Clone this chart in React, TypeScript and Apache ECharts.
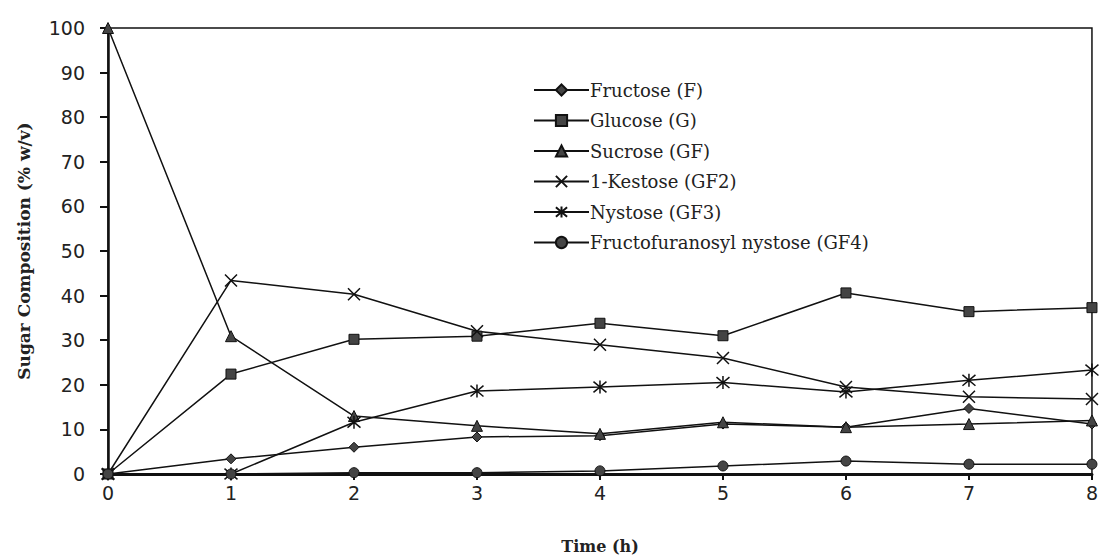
import React, { useEffect, useRef } from "react";
import * as echarts from "echarts";

const hours = [0, 1, 2, 3, 4, 5, 6, 7, 8];
const seriesNames = [
  "Fructose (F)",
  "Glucose (G)",
  "Sucrose (GF)",
  "1-Kestose (GF2)",
  "Nystose (GF3)",
  "Fructofuranosyl nystose (GF4)",
];
const fructose = [0, 3.4, 6, 8.3, 8.6, 11.2, 10.5, 14.7, 11.2];
const glucose = [0, 22.4, 30.2, 30.9, 33.8, 31, 40.6, 36.4, 37.3];
const sucrose = [100, 30.9, 13, 10.8, 9, 11.6, 10.5, 11.2, 12];
const kestose = [0, 43.4, 40.3, 32, 29, 26, 19.5, 17.3, 16.8];
const nystose = [0, 0, 11.6, 18.6, 19.5, 20.5, 18.4, 21, 23.3];
const gf4 = [0, 0, 0.3, 0.3, 0.7, 1.8, 2.9, 2.2, 2.2];

const symbols = [
  "diamond",
  "rect",
  "triangle",
  "path://M0,0L10,10M10,0L0,10",
  "path://M0,0L10,10M10,0L0,10M5,-1L5,11",
  "circle",
];
const symbolSizes = [10, 10, 11, 12, 13, 10];
const dataSets = [fructose, glucose, sucrose, kestose, nystose, gf4];

export default function App() {
  const ref = useRef<HTMLDivElement>(null);
  useEffect(() => {
    if (!ref.current) return;
    const chart = echarts.init(ref.current, null, { renderer: "svg" });
    const series = seriesNames.map((name, i) => {
      const isPath = symbols[i].startsWith("path://");
      return {
        name,
        type: "line",
        data: hours.map((h, j) => [h, dataSets[i][j]]),
        symbol: symbols[i],
        symbolSize: symbolSizes[i],
        showAllSymbol: true,
        lineStyle: { color: "#111", width: 1.5 },
        itemStyle: isPath
          ? { color: "rgba(0,0,0,0)", borderColor: "#111", borderWidth: 1.5 }
          : { color: "#444", borderColor: "#111", borderWidth: 1 },
        z: 3,
      };
    });
    chart.setOption({
      animation: false,
      backgroundColor: "#fff",
      grid: {
        left: 108,
        right: 8,
        top: 28,
        bottom: 84,
        show: true,
        borderColor: "#111",
        borderWidth: 1.5,
      },
      legend: {
        orient: "vertical",
        left: 528,
        top: 75,
        itemWidth: 55,
        itemHeight: 14,
        itemGap: 10.5,
        textStyle: {
          fontFamily: "DejaVu Serif",
          fontSize: 18,
          lineHeight: 20,
          color: "#222",
          padding: [0, 0, 0, -4],
        },
        data: seriesNames,
      },
      xAxis: {
        type: "value",
        min: 0,
        max: 8,
        interval: 1,
        name: "Time (h)",
        nameLocation: "middle",
        nameGap: 64,
        nameTextStyle: {
          fontFamily: "DejaVu Serif",
          fontWeight: "bold",
          fontSize: 16,
          color: "#222",
        },
        axisLine: { lineStyle: { color: "#111", width: 3 } },
        axisTick: { show: true, length: 6, lineStyle: { color: "#111", width: 2 } },
        axisLabel: {
          fontFamily: "DejaVu Sans",
          fontSize: 19,
          color: "#222",
          margin: 9,
        },
        splitLine: { show: false },
      },
      yAxis: {
        type: "value",
        min: 0,
        max: 100,
        interval: 10,
        name: "Sugar Composition (% w/v)",
        nameLocation: "middle",
        nameGap: 76,
        nameRotate: 90,
        nameTextStyle: {
          fontFamily: "DejaVu Serif",
          fontWeight: "bold",
          fontSize: 17,
          color: "#222",
        },
        axisLine: { show: true, lineStyle: { color: "#111", width: 2.5 } },
        axisTick: { show: true, length: 8, lineStyle: { color: "#111", width: 2 } },
        axisLabel: {
          fontFamily: "DejaVu Sans",
          fontSize: 19,
          color: "#222",
          margin: 23,
        },
        splitLine: { show: false },
      },
      series,
    });
    return () => chart.dispose();
  }, []);
  return (
    <div
      ref={ref}
      style={{ position: "absolute", left: 0, top: 0, width: 1101, height: 559 }}
    />
  );
}
